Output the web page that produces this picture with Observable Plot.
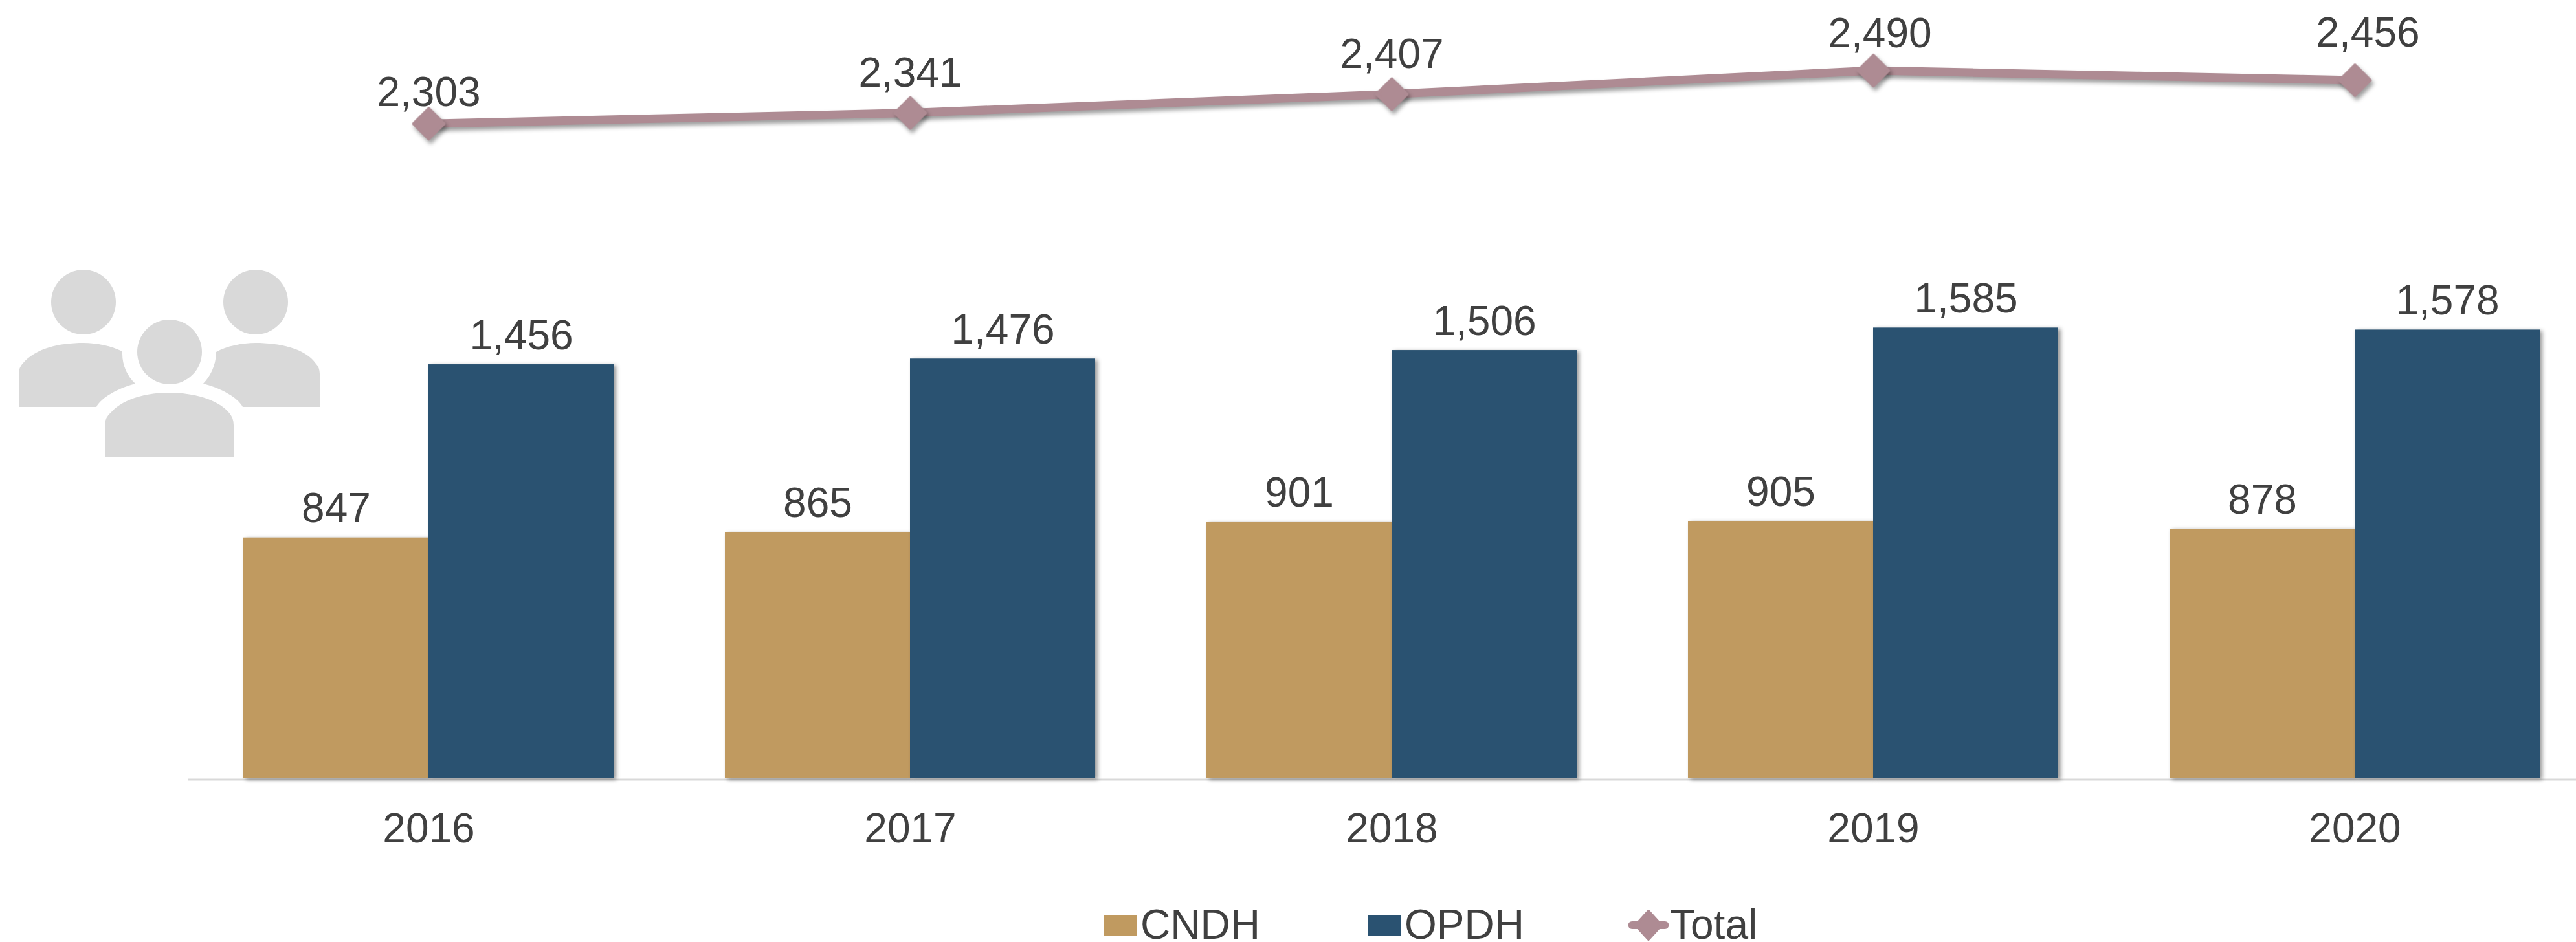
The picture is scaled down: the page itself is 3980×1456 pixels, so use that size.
<!DOCTYPE html>
<html>
<head>
<meta charset="utf-8">
<script src="https://cdn.jsdelivr.net/npm/d3@7"></script>
<script src="https://cdn.jsdelivr.net/npm/@observablehq/plot@0.6"></script>
<style>
  html, body { margin: 0; padding: 0; background: #fff; overflow: hidden; }
  #chart { width: 3980px; position: relative; }
  #chart svg { display: block; }
  #legend { position: relative; width: 3980px; height: 66px; font: 64px "Liberation Sans", Arial, sans-serif; color: #404040; }
  #legend span, #legend svg { position: absolute; }
  #legend .t { line-height: 50px; height: 50px; white-space: nowrap; }
</style>
</head>
<body>
<div id="chart"></div>
<div id="legend"></div>
<script>
const years = ["2016", "2017", "2018", "2019", "2020"];
const cndh = [847, 865, 901, 905, 878];
const opdh = [1456, 1476, 1506, 1585, 1578];
const total = [2303, 2341, 2407, 2490, 2456];

const GOLD = "#c09a60", BLUE = "#2a5271", MAUVE = "#ae8b93", INK = "#404040", GRID = "#d9d9d9";
const fmt = d3.format(",");
const W = 3980, H = 1390, BASE = 1203, FS = 64;
const labelLift = [27, 41, 41, 36, 52];
const labelShift = [0, 0, 0, 10, 20];
const barShadow = "drop-shadow(4px 2px 3px rgba(0,0,0,0.4))";
const lineShadow = "drop-shadow(3px 5px 3px rgba(0,0,0,0.38))";

const rows = (vals) => years.map((year, i) => ({year, value: vals[i]}));
const cndhRows = rows(cndh), opdhRows = rows(opdh), totalRows = rows(total);

function icon() {
  const ns = "http://www.w3.org/2000/svg";
  const g = document.createElementNS(ns, "g");
  g.setAttribute("fill", GRID);
  const heads = [[129, 467], [395, 467], [262, 544]];
  for (const [cx, cy] of heads) {
    const c = document.createElementNS(ns, "circle");
    c.setAttribute("cx", cx); c.setAttribute("cy", cy); c.setAttribute("r", 50);
    g.appendChild(c);
  }
  const bodies = [
    "M29 629V578Q29 568 35 562C55 538 92 530 129 530C150 530 172 535 189 543V547C189 565 197 582 209 593C182 600 156 615 149 629Z",
    "M494 629V578Q494 568 488 562C472 538 430 530 395 530C374 530 350 535 334 544V547C333 565 325 582 314 593C342 600 368 615 375 629Z",
    "M162 707V657Q162 645 172 637C190 617 225 607 262 607C298 607 336 617 353 637Q361 645 361 657V707Z"
  ];
  for (const d of bodies) {
    const p = document.createElementNS(ns, "path");
    p.setAttribute("d", d);
    g.appendChild(p);
  }
  return g;
}

const plot = Plot.plot({
  width: W, height: H,
  marginTop: 0, marginLeft: 290, marginRight: -30, marginBottom: H - BASE,
  style: {fontFamily: '"Liberation Sans", Arial, sans-serif', background: "#fff", overflow: "hidden"},
  x: {type: "band", domain: years, range: [290, 4010], padding: 0, label: null},
  y: {domain: [0, 2737], range: [BASE, 0], axis: null, label: null},
  marks: [
    Plot.ruleY([0], {stroke: GRID, strokeWidth: 3, dy: 1.5}),
    Plot.axisX({tickSize: 0, tickPadding: 0, fontSize: FS, color: INK, fill: INK, label: null, dy: 53}),
    icon,
    Plot.barY(cndhRows, {x: "year", y: "value", fill: GOLD, insetLeft: 86, insetRight: 372, imageFilter: barShadow}),
    Plot.barY(opdhRows, {x: "year", y: "value", fill: BLUE, insetLeft: 372, insetRight: 86, imageFilter: barShadow}),
    Plot.text(cndhRows, {x: "year", y: "value", text: d => fmt(d.value), dx: -143, dy: -24, lineAnchor: "bottom", fontSize: FS, fill: INK}),
    Plot.text(opdhRows, {x: "year", y: "value", text: d => fmt(d.value), dx: 143, dy: -24, lineAnchor: "bottom", fontSize: FS, fill: INK}),
    Plot.line(totalRows, {x: "year", y: "value", stroke: MAUVE, strokeWidth: 13, imageFilter: lineShadow}),
    Plot.dot(totalRows, {x: "year", y: "value", symbol: "diamond2", r: 21, fill: MAUVE, stroke: MAUVE, strokeWidth: 5, strokeLinejoin: "round", imageFilter: lineShadow}),
    ...totalRows.map((d, i) => Plot.text([d], {x: "year", y: "value", text: r => fmt(r.value), dx: labelShift[i], dy: -labelLift[i], lineAnchor: "bottom", fontSize: FS, fill: INK}))
  ]
});
document.getElementById("chart").appendChild(plot);

// legend below the SVG
const legend = document.getElementById("legend");
const add = (html) => legend.insertAdjacentHTML("beforeend", html);
const TOP = 1390;
const label = (text, x) => add(`<span class="t" style="left:${x}px;top:${1451 - TOP - 47}px">${text}</span>`);
const swatch = (color, x) => add(`<span style="left:${x}px;top:${1415 - TOP}px;width:52px;height:32px;background:${color}"></span>`);
swatch(GOLD, 1705); label("CNDH", 1762);
swatch(BLUE, 2113); label("OPDH", 2170);
add(`<svg style="left:2512px;top:${1404 - TOP}px" width="70" height="52" viewBox="0 0 70 52"><path d="M9.5 26H60.5" stroke="${MAUVE}" stroke-width="12" stroke-linecap="round"/><path d="M35 4L55 26L35 48L15 26Z" fill="${MAUVE}" stroke="${MAUVE}" stroke-width="4" stroke-linejoin="round"/></svg>`);
label("Total", 2580);
</script>
</body>
</html>
